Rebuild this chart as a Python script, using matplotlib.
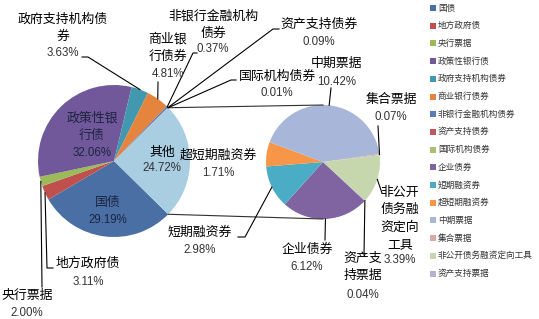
import numpy as np
import matplotlib.pyplot as plt
from matplotlib.patches import Rectangle

plt.rcParams['font.family'] = ['Noto Sans CJK SC', 'DejaVu Sans']

# main pie (first plot), "其他" is split into the second pie
main_names = ['国债', '地方政府债', '央行票据', '政策性银行债', '政府支持机构债券',
              '商业银行债券', '非银行金融机构债券', '资产支持债券', '国际机构债券', '其他']
main_values = [29.19, 3.11, 2.00, 32.06, 3.63, 4.81, 0.37, 0.09, 0.01, 24.72]
main_colors = ['#4A6FA5', '#C0504D', '#9BBB59', '#71589A', '#4198AF',
               '#E5853D', '#5B7DB5', '#C05A58', '#A8C070', '#A9CDE1']

sub_names = ['企业债券', '短期融资券', '超短期融资券', '中期票据', '集合票据',
             '非公开债务融资定向工具', '资产支持票据']
sub_values = [6.12, 2.98, 1.71, 10.42, 0.07, 3.39, 0.04]
sub_colors = ['#8064A2', '#4BACC6', '#F79646', '#A8B6D9', '#D9AAAA', '#C6D7AD', '#B8B0D2']

# label text as shown on the chart (line breaks as in the picture)
label_lines = {
    '国债': ['国债'], '地方政府债': ['地方政府债'], '央行票据': ['央行票据'],
    '政策性银行债': ['政策性银', '行债'], '政府支持机构债券': ['政府支持机构债', '券'],
    '商业银行债券': ['商业银', '行债券'], '非银行金融机构债券': ['非银行金融机构', '债券'],
    '资产支持债券': ['资产支持债券'], '国际机构债券': ['国际机构债券'], '其他': ['其他'],
    '企业债券': ['企业债券'], '短期融资券': ['短期融资券'], '超短期融资券': ['超短期融资券'],
    '中期票据': ['中期票据'], '集合票据': ['集合票据'],
    '非公开债务融资定向工具': ['非公开', '债务融', '资定向', '工具'],
    '资产支持票据': ['资产支', '持票据'],
}

W, H = 539, 319
def P(x, y):  # pixel (top-left origin) -> data coords
    return x, H - y

# layout (pixels)
main_c, main_r = (114, 161), 76
sub_c, sub_r = (323, 162), 57
# (x center, first line y, percent y)
label_pos = {
    '国债': (108, 202, 220), '地方政府债': (88, 263, 282), '央行票据': (27, 295, 313),
    '政策性银行债': (92, 118, 153), '政府支持机构债券': (63, 19, 53),
    '商业银行债券': (168, 39, 74), '非银行金融机构债券': (213, 16, 49),
    '资产支持债券': (319, 24, 42), '国际机构债券': (277, 76, 93), '其他': (162, 152, 168),
    '企业债券': (307, 249, 267), '短期融资券': (200, 232, 250), '超短期融资券': (218, 155, 173),
    '中期票据': (337, 63, 82), '集合票据': (391, 99, 117),
    '非公开债务融资定向工具': (400, 192, 260), '资产支持票据': (363, 258, 295),
}
# leader line points from label side (pixels); the pie end is added from the wedge
leaders = {
    '政府支持机构债券': [(82, 57), (88, 57)], '商业银行债券': [(158, 82)],
    '非银行金融机构债券': [(197, 53), (193, 53)], '资产支持债券': [(279, 29), (273, 29)],
    '国际机构债券': [(236, 80), (231, 80)], '地方政府债': [(53, 268), (47, 268)],
    '央行票据': [(42, 287)], '短期融资券': [(238, 237), (245, 237)],
    '企业债券': [(325, 240)], '中期票据': [(331, 88)], '集合票据': [(378, 126)],
    '非公开债务融资定向工具': [(382, 193)], '资产支持票据': [(364, 255)],
}

fig = plt.figure(figsize=(W / 100, H / 100), dpi=100)
ax = fig.add_axes([0, 0, 1, 1])

other_deg = 360 * main_values[-1] / sum(main_values)
mw, _ = ax.pie(main_values, colors=main_colors, startangle=-other_deg / 2, counterclock=False,
               center=P(*main_c), radius=main_r, wedgeprops=dict(linewidth=0))
sw, _ = ax.pie(sub_values, colors=sub_colors, startangle=-43, counterclock=False,
               center=P(*sub_c), radius=sub_r, wedgeprops=dict(linewidth=0))
ax.set_xlim(0, W)
ax.set_ylim(0, H)
ax.set_aspect('equal')
ax.axis('off')

def edge(w, ang=None):
    cx, cy = w.center
    a = np.deg2rad((w.theta1 + w.theta2) / 2 if ang is None else ang)
    return cx + w.r * np.cos(a), cy + w.r * np.sin(a)

# connector lines between the two pies
other = mw[-1]
scx, scy = P(*sub_c)
for ang, ty in [(other.theta2, scy + sub_r), (other.theta1, scy - sub_r)]:
    x0, y0 = edge(other, ang)
    ax.plot([x0, scx], [y0, ty], color='#303030', lw=0.8)

wedges = dict(zip(main_names + sub_names, list(mw) + list(sw)))
values = dict(zip(main_names + sub_names, main_values + sub_values))

for name, pts in leaders.items():
    px, py = edge(wedges[name])
    xs = [P(*p)[0] for p in pts] + [px]
    ys = [P(*p)[1] for p in pts] + [py]
    ax.plot(xs, ys, color='black', lw=0.8)

inside = ('国债', '政策性银行债')
for name, (x, y0, yp) in label_pos.items():
    tc = '#1c2540' if name in inside else 'black'
    for i, line in enumerate(label_lines[name]):
        ax.text(*P(x, y0 + i * 17.5), line, ha='center', va='center', fontsize=9.3, color=tc)
    ax.text(*P(x, yp), f'{values[name]:.2f}%', ha='center', va='center', fontsize=8.3,
            family='Liberation Sans', color='#1c2540' if name in inside else '#333333')

# legend (everything except 其他)
leg_names = main_names[:-1] + sub_names
leg_colors = main_colors[:-1] + sub_colors
for i, (name, c) in enumerate(zip(leg_names, leg_colors)):
    y = 8 + i * 17.7
    x0, yy = P(430, y + 3)
    ax.add_patch(Rectangle((x0, yy), 6, 6, color=c, lw=0))
    ax.text(*P(438, y), name, ha='left', va='center', fontsize=6.2, color='#333333')

fig.savefig('out.png', dpi=100)
